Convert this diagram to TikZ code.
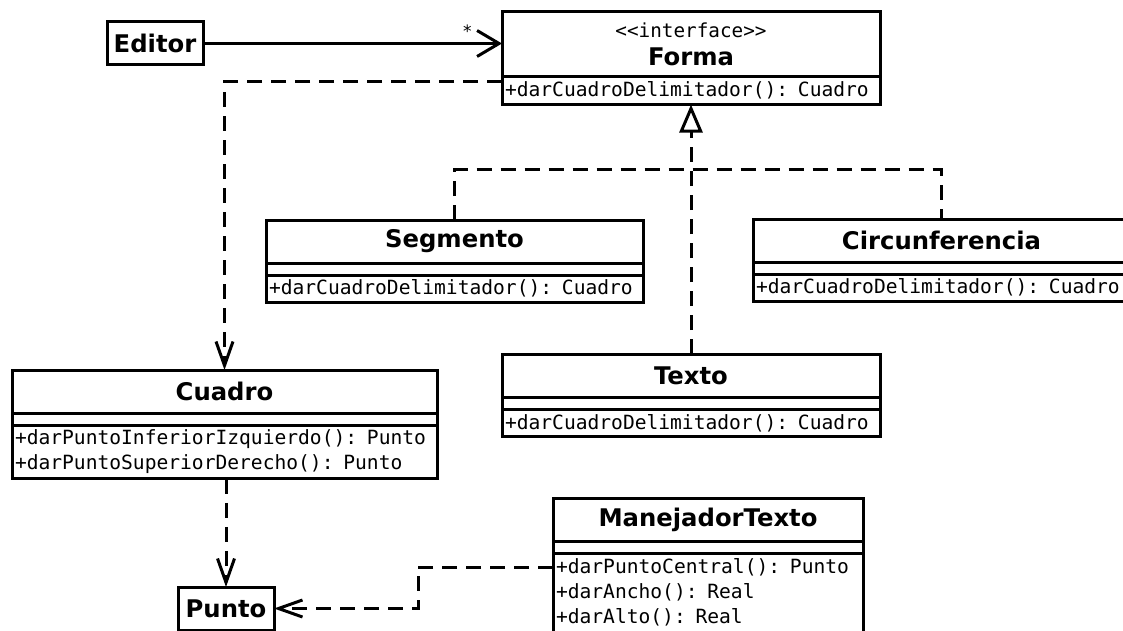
\documentclass[tikz,border=0pt]{standalone}
\usepackage{fontspec}
\setmainfont{DejaVu Sans}
\setmonofont{DejaVu Sans Mono}
\usetikzlibrary{positioning, arrows.meta}

\newcommand{\clsfont}{\fontsize{24.3}{28}\selectfont\bfseries}
\newcommand{\opsfont}{\ttfamily\fontsize{19.6}{25}\selectfont}
\newcommand{\stereofont}{\mdseries\ttfamily\fontsize{19.3}{20}\selectfont}

\begin{document}
\begin{tikzpicture}[
    x=1pt, y=-1pt,
    node distance=0pt,
    box/.style={draw, line width=3pt, outer sep=0pt, inner sep=0pt},
    cls/.style={box, font=\clsfont, align=center, minimum height=43pt},
    attr/.style={box, minimum height=12pt},
    ops/.style={box, font=\opsfont, align=left, inner xsep=3pt, inner ysep=5pt},
    simple/.style={box, font=\clsfont, minimum width=96pt, minimum height=43pt},
    lnk/.style={line width=3pt},
    assoc/.style={lnk, -{Straight Barb[length=22pt, width=26pt]}},
    dep/.style={lnk, dash pattern=on 15pt off 9pt,
      -{Straight Barb[length=24pt, width=17pt]}},
    dashline/.style={lnk, dash pattern=on 15pt off 9pt},
    real/.style={dashline, -{Triangle[open, fill=white, length=28pt, width=23pt]}}
  ]
    \fill[white] (0,0) rectangle (1123,631);
    \useasboundingbox (0,0) rectangle (1123,631);

    \node[simple] (editor) at (155,43.5) {Editor};
    \node[simple] (punto) at (226,608.5) {Punto};

    % interfaz
    \node[cls, minimum width=378pt, minimum height=65pt, anchor=north west]
      (forma) at (502,12) {{\stereofont <<interface>>}\\Forma};
    \node[ops, text width=372pt, below=of forma] (formaops)
      {+darCuadroDelimitador(): Cuadro};

    % clases concretas
    \node[cls, minimum width=377pt, anchor=north west] (seg) at (266,220) {Segmento};
    \node[attr, minimum width=377pt, below=of seg] (segattr) {};
    \node[ops, text width=371pt, below=of segattr] (segops)
      {+darCuadroDelimitador(): Cuadro};

    \node[cls, minimum width=377pt, anchor=north west] (circ) at (753,219) {Circunferencia};
    \node[attr, minimum width=377pt, below=of circ] (circattr) {};
    \node[ops, text width=371pt, below=of circattr] (circops)
      {+darCuadroDelimitador(): Cuadro};

    \node[cls, minimum width=378pt, anchor=north west] (texto) at (502,354) {Texto};
    \node[attr, minimum width=378pt, below=of texto] (textoattr) {};
    \node[ops, text width=372pt, below=of textoattr] (textoops)
      {+darCuadroDelimitador(): Cuadro};

    \node[cls, minimum width=425pt, anchor=north west] (cuadro) at (12,370) {Cuadro};
    \node[attr, minimum width=425pt, below=of cuadro] (cuadroattr) {};
    \node[ops, text width=419pt, below=of cuadroattr] (cuadroops)
      {+darPuntoInferiorIzquierdo(): Punto\\+darPuntoSuperiorDerecho(): Punto};

    \node[cls, minimum width=310pt, anchor=north west] (mt) at (553,498) {ManejadorTexto};
    \node[attr, minimum width=310pt, below=of mt] (mtattr) {};
    \node[ops, text width=304pt, below=of mtattr] (mtops)
      {+darPuntoCentral(): Punto\\+darAncho(): Real\\+darAlto(): Real\rule[-14pt]{0pt}{14pt}};

    % relaciones
    \draw[assoc] (editor) -- (editor -| forma.west)
      node[pos=1, anchor=south east, xshift=-28pt, yshift=3pt,
        font=\fontsize{17}{17}\selectfont, inner sep=1pt] (mult) {*};
    \draw[dep] ([yshift=9pt]formaops.west) -| (cuadro.north);
    \draw[dep] (cuadroops.south -| punto.north) -- (punto.north);
    \draw[dep] ([yshift=-14pt]mtops.north west) -- ++(-135,0) |- (punto.east);
    \draw[real] (texto.north) -- (formaops.south);
    \draw[dashline] (seg.north) -- ++(0,-50) -| (circ.north);
\end{tikzpicture}
\end{document}
